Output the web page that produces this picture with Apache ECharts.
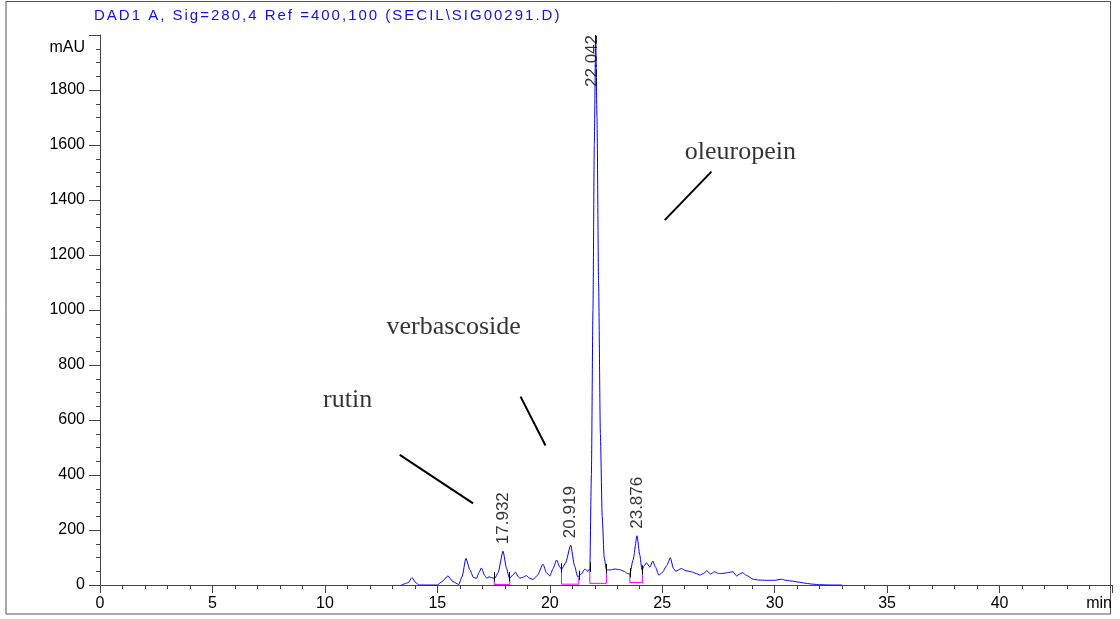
<!DOCTYPE html>
<html>
<head>
<meta charset="utf-8">
<script src="https://cdn.jsdelivr.net/npm/echarts@6/dist/echarts.min.js"></script>
<style>
html,body{margin:0;padding:0;background:#fff;}
#chart{width:1120px;height:619px;}
</style>
</head>
<body>
<div id="chart"></div>
<script>
// ---- Data ----
const times = [13.4, 13.7, 13.87, 14.05, 14.2, 15.0, 15.2, 15.47, 15.7, 15.95, 16.1, 16.27, 16.45, 16.6, 16.74, 16.85, 16.96, 17.1, 17.2, 17.3, 17.42, 17.56, 17.7, 17.92, 18.08, 18.2, 18.35, 18.47, 18.6, 18.67, 18.8, 18.96, 19.1, 19.25, 19.45, 19.7, 19.85, 20.0, 20.15, 20.3, 20.45, 20.52, 20.7, 20.93, 21.1, 21.24, 21.4, 21.56, 21.7, 21.78, 21.85, 21.92, 21.98, 22.04, 22.1, 22.17, 22.25, 22.33, 22.42, 22.52, 22.7, 22.9, 23.1, 23.3, 23.45, 23.56, 23.7, 23.88, 24.0, 24.1, 24.2, 24.3, 24.45, 24.58, 24.7, 24.85, 25.0, 25.2, 25.36, 25.5, 25.6, 25.85, 26.05, 26.3, 26.5, 26.67, 26.85, 26.98, 27.14, 27.33, 27.5, 27.7, 27.9, 28.15, 28.3, 28.45, 28.56, 28.75, 29.04, 29.3, 29.63, 30.0, 30.3, 30.5, 30.8, 31.1, 31.4, 31.7, 32.0, 32.5, 33.0];
const mAU = [0, 8, 27, 8, 0, 0, 12, 33, 12, 2, 30, 97, 55, 28, 24, 45, 62, 35, 25, 30, 26, 25, 45, 123, 60, 25, 35, 47, 30, 25, 28, 34, 25, 20, 35, 76, 45, 33, 60, 91, 65, 57, 80, 145, 70, 30, 40, 58, 50, 60, 400, 1000, 1600, 2000, 1700, 1100, 550, 250, 100, 55, 55, 58, 56, 50, 42, 40, 90, 179, 110, 55, 70, 81, 65, 87, 65, 36, 45, 70, 99, 60, 50, 60, 52, 48, 42, 36, 42, 52, 40, 48, 42, 42, 45, 48, 33, 40, 45, 35, 21, 18, 17, 17, 21, 17, 14, 10, 6, 3, 1, 0, 0];

// labelled peaks (retention time labels)
const peakTimes = [17.932, 20.919, 22.042, 23.876];
const peakHeights = [123, 145, 2000, 179];
const peakLabels = ['17.932', '20.919', '22.042', '23.876'];

// integration windows (start/end time, baseline, signal at start/end)
const intStart = [17.53, 20.52, 21.78, 23.56];
const intEnd = [18.22, 21.29, 22.52, 24.12];
const intBase = [2, 3, 6, 9];
const intStartVal = [25, 57, 60, 40];
const intEndVal = [25, 30, 55, 50];

// compound annotations
const compoundNames = ['oleuropein', 'verbascoside', 'rutin'];

// axis ticks
const xTickLabels = ['0', '5', '10', '15', '20', '25', '30', '35', '40', 'min'];
const yTickLabels = ['0', '200', '400', '600', '800', '1000', '1200', '1400', '1600', '1800', ''];

const titleText = 'DAD1 A, Sig=280,4 Ref =400,100 (SECIL\\SIG00291.D)';

// ---- annotation placement (data coordinates) ----
const annoText = [[26.0, 1575], [12.74, 938], [9.92, 673]];
const annoLines = [
  [[27.19, 1503], [25.11, 1327]],
  [[18.70, 685], [19.81, 507]],
  [[13.33, 473], [16.59, 297]]
];

const chart = echarts.init(document.getElementById('chart'), null, {renderer: 'canvas'});

const series = [];
series.push({
  type: 'line',
  data: times.map((t, i) => [t, mAU[i]]),
  symbol: 'none',
  smooth: 0.2,
  smoothMonotone: 'x',
  lineStyle: {color: '#0000ff', width: 1},
  z: 5,
  clip: false
});
intStart.forEach((s, i) => {
  series.push({
    type: 'line',
    data: [[s, intStartVal[i]], [s, intBase[i]], [intEnd[i], intBase[i]], [intEnd[i], intEndVal[i]]],
    symbol: 'none',
    lineStyle: {color: '#ff00ff', width: 1},
    z: 4
  });
});
const tickData = [];
intStart.forEach((s, i) => {
  tickData.push({coords: [[s, intStartVal[i] - 12], [s, intStartVal[i] + 22]]});
  tickData.push({coords: [[intEnd[i], intEndVal[i] - 12], [intEnd[i], intEndVal[i] + 22]]});
});
series.push({
  type: 'lines',
  coordinateSystem: 'cartesian2d',
  data: tickData,
  lineStyle: {color: '#000', width: 1, opacity: 1},
  z: 6
});
series.push({
  type: 'scatter',
  symbolSize: 0,
  data: peakTimes.map((t, i) => {
    const item = {value: [t, peakHeights[i]], name: peakLabels[i]};
    if (peakHeights[i] >= 1900) {
      item.label = {position: 'inside', align: 'right', verticalAlign: 'middle', offset: [0, -3]};
    }
    return item;
  }),
  label: {
    show: true,
    formatter: p => p.name,
    rotate: 90,
    position: 'top',
    distance: 7,
    align: 'left',
    verticalAlign: 'middle',
    fontFamily: 'Liberation Sans, Arial',
    fontSize: 17,
    color: '#000'
  },
  z: 7,
  silent: true
});
series.push({
  type: 'lines',
  coordinateSystem: 'cartesian2d',
  data: annoLines.map(c => ({coords: c})),
  lineStyle: {color: '#000', width: 2, opacity: 1},
  z: 6
});
series.push({
  type: 'scatter',
  symbolSize: 0,
  data: compoundNames.map((n, i) => ({value: annoText[i], name: n})),
  label: {
    show: true,
    formatter: p => p.name,
    position: 'inside',
    align: 'left',
    verticalAlign: 'middle',
    fontFamily: 'Liberation Serif, Times New Roman',
    fontSize: 26,
    color: '#000'
  },
  z: 7,
  silent: true
});

// title rendered with slight letter spacing via rich tokens
const titleRich = titleText.split('').map(ch => '{c|' + ch + '}').join('');

chart.setOption({
  animation: false,
  backgroundColor: '#fff',
  title: {
    text: titleRich,
    left: 88,
    top: 3,
    textStyle: {
      fontFamily: 'Liberation Sans, Arial', fontSize: 15, fontWeight: 'normal', color: '#1010f0',
      rich: {c: {fontFamily: 'Liberation Sans, Arial', fontSize: 15, color: '#1010f0', padding: [0, 1, 0, 1]}}
    }
  },
  grid: {left: 100, right: 8, top: 35, bottom: 34},
  xAxis: {
    type: 'value',
    min: 0, max: 45, interval: 5,
    axisLine: {show: true, onZero: false, lineStyle: {color: '#444', width: 1}},
    axisTick: {show: true, length: 8, lineStyle: {color: '#444'}},
    minorTick: {show: true, splitNumber: 5, length: 4, lineStyle: {color: '#444'}},
    splitLine: {show: false},
    axisLabel: {
      formatter: v => xTickLabels[Math.round(v / 5)],
      alignMaxLabel: 'right',
      fontFamily: 'Liberation Sans, Arial', fontSize: 16, color: '#000', margin: 11
    }
  },
  yAxis: {
    type: 'value',
    min: 0, max: 2000, interval: 200,
    name: 'mAU',
    nameLocation: 'end',
    nameGap: -13,
    nameTextStyle: {fontFamily: 'Liberation Sans, Arial', fontSize: 16, color: '#000', align: 'right', verticalAlign: 'middle', padding: [0, 15, 0, 0]},
    axisLine: {show: true, lineStyle: {color: '#444', width: 1}},
    axisTick: {show: true, length: 11, lineStyle: {color: '#444'}},
    minorTick: {show: true, splitNumber: 4, length: 4, lineStyle: {color: '#444'}},
    splitLine: {show: false},
    axisLabel: {
      formatter: v => yTickLabels[Math.round(v / 200)],
      fontFamily: 'Liberation Sans, Arial', fontSize: 16, color: '#000', margin: 15
    }
  },
  graphic: [{
    type: 'rect',
    shape: {x: 6, y: 1.5, width: 1104.5, height: 612.5},
    style: {fill: 'none', stroke: '#555', lineWidth: 1},
    silent: true
  }],
  series: series
});
</script>
</body>
</html>
